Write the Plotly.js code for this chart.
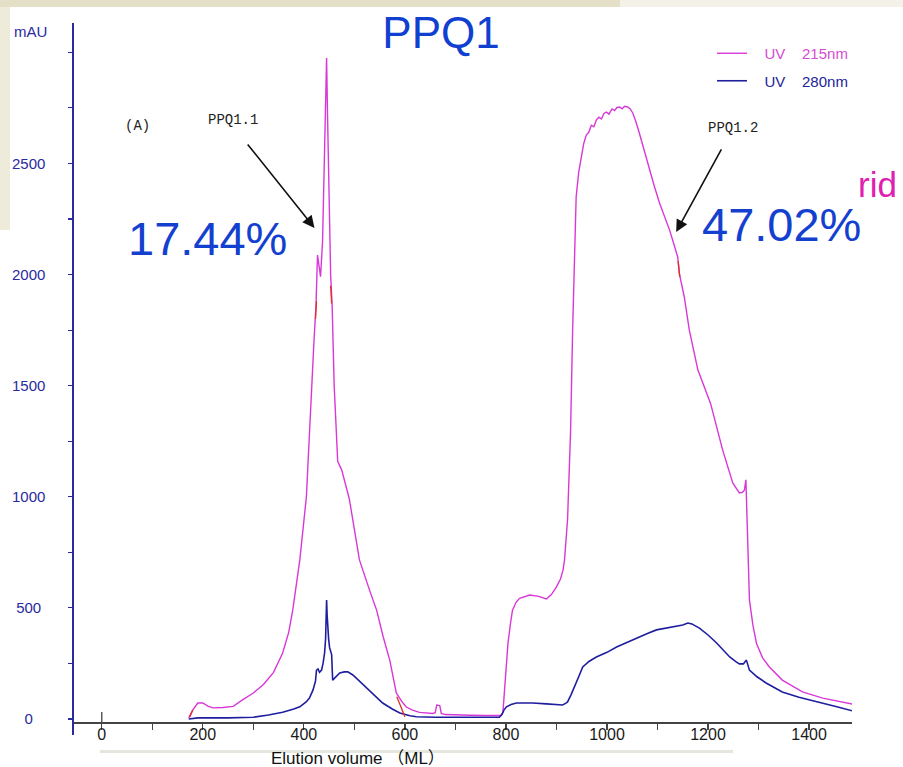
<!DOCTYPE html>
<html>
<head>
<meta charset="utf-8">
<script src="https://cdn.plot.ly/plotly-3.0.1.min.js"></script>
<style>html,body{margin:0;padding:0;background:#fff;}#chart{width:903px;height:767px;}</style>
</head>
<body>
<div id="chart"></div>
<script>
// ---- data ----
const volume215 = [172,180,190,200,210,220,240,260,280,300,320,340,358,370,378,392,405,413,420,424,427,430,433,437,441,445,447,449,451,453,456,460,467,475,490,510,530,544,557,570,583,595,603,615,629,645,655,660,663,669,672,680,700,730,760,790,794,797,800,804,809,813,820,827,847,865,880,890,900,908,913,916,922,928,932,936,939,944,949,954,959,964,969,974,979,984,989,994,999,1004,1010,1015,1020,1025,1030,1035,1041,1046,1051,1057,1064,1074,1084,1094,1104,1114,1124,1132,1140,1143,1153,1163,1180,1205,1229,1249,1262,1268,1272,1275,1276,1278,1282,1289,1296,1308,1321,1347,1370,1387,1427,1460,1494];
const uv215 = [5,40,72,72,58,50,52,57,88,117,155,210,297,390,490,716,1000,1400,1700,1860,2088,2040,1990,2150,2600,2975,2700,2450,2290,2000,1860,1500,1160,1120,990,716,580,490,370,265,117,75,54,40,30,26,25,28,63,60,25,20,18,17,16,16,30,117,220,340,430,490,525,543,558,552,540,560,595,630,670,716,900,1300,1750,2150,2350,2460,2530,2590,2628,2640,2672,2665,2696,2708,2700,2725,2731,2722,2745,2738,2752,2754,2746,2757,2754,2745,2727,2690,2637,2555,2471,2395,2322,2260,2200,2140,2079,2007,1899,1750,1570,1420,1210,1062,1017,1020,1030,1076,1000,837,535,420,340,275,235,175,145,122,94,78,63];

const volume280 = [172,190,250,300,330,358,380,392,405,411,418,423,425,428,431,435,438,441,443,445,446,447,449,451,455,457,462,471,480,487,497,510,524,540,556,575,590,610,623,660,700,750,787,792,796,801,810,821,853,880,900,912,918,922,929,936,944,952,965,979,1000,1019,1040,1058,1080,1098,1125,1150,1160,1168,1183,1200,1217,1230,1243,1255,1262,1270,1273,1276,1282,1297,1315,1347,1380,1414,1455,1494];
const uv280 = [0,5,5,8,18,30,45,55,78,94,130,170,220,225,210,220,250,297,360,535,470,400,360,320,290,175,185,207,212,212,198,170,140,105,72,45,27,15,10,8,8,7,8,20,40,55,65,72,72,68,63,63,70,77,110,144,190,234,260,279,300,324,345,365,385,401,412,423,432,428,409,378,342,310,279,258,248,248,255,265,220,190,162,122,98,77,55,32];

// integration cut marks (red)
const cutVolume = [174,180,null,423,425,null,453,455,null,584,600,null,1141,1144];
const cutValue  = [8,40,null,1800,1880,null,1950,1870,null,100,10,null,2060,1990];

const xTickVals = [0,100,200,300,400,500,600,700,800,900,1000,1100,1200,1300,1400];
const yTickVals = [0,250,500,750,1000,1250,1500,1750,2000,2250,2500,2750,3000];
const seriesNames = ['UV\u00a0\u00a0\u00a0\u00a0215nm','UV\u00a0\u00a0\u00a0\u00a0280nm'];

// ---- helpers ----
const W = 903, H = 767, ML = 74, MR = 51, MT = 23, MB = 32;
const PW = W - ML - MR, PH = H - MT - MB;
const px = v => (v - ML) / PW;            // pixel x -> paper x
const py = v => (H - MB - v) / PH;        // pixel y -> paper y

const xTickText = xTickVals.map(v => (v % 200 === 0) ? String(v) : '');
const yTickText = yTickVals.map(v => {
  if (v % 500 !== 0 || v > 2500) return '';
  const s = String(v);
  const pad = s.length === 1 ? 3 : (s.length === 3 ? 1 : 0);
  return s + '\u00a0'.repeat(pad);
});

const MAG = '#d938d9', BLU = '#1e1e9e', AXB = '#2a2aa0';
const legendLead = '\u00a0\u00a0\u00a0';

const traces = [
  {x: volume215, y: uv215, type: 'scatter', mode: 'lines', name: '<span style="color:#d54ad5">' + legendLead + seriesNames[0] + '</span>',
   legendgroup: 'a', line: {color: MAG, width: 1.4}},
  {x: volume280, y: uv280, type: 'scatter', mode: 'lines', name: '<span style="color:#23239a">' + legendLead + seriesNames[1] + '</span>',
   legendgroup: 'b', line: {color: BLU, width: 1.6}},
  {x: cutVolume, y: cutValue, type: 'scatter', mode: 'lines', showlegend: false, hoverinfo: 'skip',
   line: {color: '#e03020', width: 1.3}}
];

const layout = {
  width: W, height: H,
  margin: {l: ML, r: MR, t: MT, b: MB, pad: 0},
  paper_bgcolor: '#ffffff', plot_bgcolor: 'rgba(0,0,0,0)',
  font: {family: 'Liberation Sans, Arial, sans-serif'},
  title: {text: 'PPQ1', x: 441 / W, xanchor: 'center', y: 1 - 33 / H, yanchor: 'middle',
          font: {family: 'Liberation Sans, Arial, sans-serif', size: 44, color: '#1040d0'}},
  showlegend: true,
  legend: {x: px(712), y: py(37), xanchor: 'left', yanchor: 'top', bgcolor: 'rgba(255,255,255,0)',
           font: {size: 15, family: 'Liberation Sans, Arial, sans-serif'}, tracegroupgap: 5, itemwidth: 30},
  xaxis: {
    range: [-55, 1485], anchor: 'free', position: py(722),
    showline: true, linecolor: '#444', linewidth: 1.5, showgrid: false, zeroline: false,
    tickmode: 'array', tickvals: xTickVals, ticktext: xTickText,
    ticks: 'outside', ticklen: 6, tickwidth: 1.2, tickcolor: '#444', ticklabelstandoff: -9,
    tickfont: {family: 'Liberation Sans Narrow, Liberation Sans, Arial', size: 16, color: '#1a1a1a'}
  },
  yaxis: {
    range: [-72, 3132],
    showline: true, linecolor: AXB, linewidth: 1.6, showgrid: false, zeroline: false,
    tickmode: 'array', tickvals: yTickVals, ticktext: yTickText,
    ticks: 'outside', ticklen: 4, tickwidth: 1.2, tickcolor: AXB, ticklabelstandoff: 20,
    tickfont: {family: 'Liberation Sans, Arial', size: 15, color: AXB}
  },
  shapes: [
    // slide background strips
    {type: 'rect', xref: 'paper', yref: 'paper', x0: px(0), x1: px(620), y0: py(7), y1: py(0), fillcolor: '#e4e0c8', line: {width: 0}, layer: 'below'},
    {type: 'rect', xref: 'paper', yref: 'paper', x0: px(620), x1: px(903), y0: py(7), y1: py(0), fillcolor: '#f4f2e8', line: {width: 0}, layer: 'below'},
    {type: 'rect', xref: 'paper', yref: 'paper', x0: px(0), x1: px(10), y0: py(230), y1: py(7), fillcolor: '#efebdb', line: {width: 0}, layer: 'below'},
    {type: 'rect', xref: 'paper', yref: 'paper', x0: px(100), x1: px(733), y0: py(753), y1: py(750), fillcolor: '#e6e6de', line: {width: 0}, layer: 'below'},
    // injection marker
    {type: 'line', xref: 'x', yref: 'y', x0: 0, x1: 0, y0: -13, y1: 31, line: {color: '#333', width: 1.2}}
  ],
  annotations: [
    {xref: 'paper', yref: 'paper', x: px(30), y: py(32), text: 'mAU', showarrow: false, xanchor: 'center', yanchor: 'middle',
     font: {size: 15, color: AXB, family: 'Liberation Sans, Arial'}},
    {xref: 'paper', yref: 'paper', x: px(137), y: py(126), text: '(A)', showarrow: false, xanchor: 'center', yanchor: 'middle',
     font: {size: 14, color: '#222', family: 'Liberation Mono, monospace'}},
    {xref: 'paper', yref: 'paper', x: px(233), y: py(120), text: 'PPQ1.1', showarrow: false, xanchor: 'center', yanchor: 'middle',
     font: {size: 14, color: '#222', family: 'Liberation Mono, monospace'}},
    {xref: 'paper', yref: 'paper', x: px(733), y: py(128), text: 'PPQ1.2', showarrow: false, xanchor: 'center', yanchor: 'middle',
     font: {size: 14, color: '#222', family: 'Liberation Mono, monospace'}},
    {xref: 'paper', yref: 'paper', x: px(207), y: py(239), text: '17.44%', showarrow: false, xanchor: 'center', yanchor: 'middle',
     font: {size: 47, color: '#1440d0', family: 'Liberation Sans, Arial'}},
    {xref: 'paper', yref: 'paper', x: px(781), y: py(224), text: '47.02%', showarrow: false, xanchor: 'center', yanchor: 'middle',
     font: {size: 47, color: '#1440d0', family: 'Liberation Sans, Arial'}},
    {xref: 'paper', yref: 'paper', x: px(856), y: py(185), text: 'rid', showarrow: false, xanchor: 'left', yanchor: 'middle',
     font: {size: 35, color: '#e020b0', family: 'Liberation Sans, Arial'}},
    {xref: 'paper', yref: 'paper', x: px(358), y: py(758), text: 'Elution volume \uff08ML\uff09', showarrow: false, xanchor: 'center', yanchor: 'middle',
     font: {size: 17, color: '#111', family: 'Liberation Sans, Noto Sans CJK SC, Arial'}},
    // arrows
    {xref: 'x', yref: 'y', x: 421, y: 2210, ax: -68, ay: -85, text: '', showarrow: true,
     arrowhead: 2, arrowsize: 1.5, arrowwidth: 1.6, arrowcolor: '#111', standoff: 0},
    {xref: 'x', yref: 'y', x: 1137, y: 2192, ax: 46, ay: -84, text: '', showarrow: true,
     arrowhead: 2, arrowsize: 1.5, arrowwidth: 1.6, arrowcolor: '#111', standoff: 0}
  ]
};

Plotly.newPlot('chart', traces, layout, {displayModeBar: false, staticPlot: true});
</script>
</body>
</html>
